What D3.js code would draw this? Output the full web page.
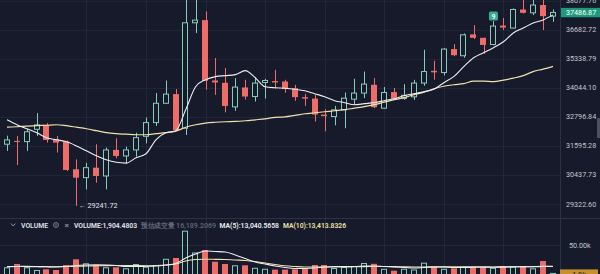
<!DOCTYPE html>
<html>
<head>
<meta charset="utf-8">
<script src="https://cdn.jsdelivr.net/npm/d3@7"></script>
<style>
  html, body { margin: 0; padding: 0; background: #161a2b; overflow: hidden; }
  svg { display: block; font-family: Roboto, "Noto Sans", sans-serif; }
</style>
</head>
<body>
<svg id="chart"></svg>
<script>
// candle data (oldest -> newest)
const opens  = [31652, 31786, 31757, 32264, 32446, 31855, 31757, 30648, 30320, 30711,
                30386, 31420, 31177, 31420, 31973, 32543, 33361, 33755, 32306, 36994,
                37121, 34351, 34250, 33205, 34044, 33650, 34263, 34325, 34307, 34018,
                33623, 33562, 32880, 32796, 33079, 33536, 33799, 34162, 33150, 33843,
                33571, 33637, 34237, 34780, 34703, 35765, 35461, 36446, 36286, 35974,
                36862, 36744, 37630, 37470, 37847, 37310];
const highs  = [32001, 31989, 32275, 32940, 32517, 31989, 31798, 31039, 30906, 31652,
                31514, 31895, 31554, 32123, 32754, 33799, 34351, 33974, 38200, 38200,
                37535, 35356, 34902, 34456, 34381, 34491, 34425, 34825, 34381, 34162,
                33768, 33724, 33108, 33248, 33825, 34425, 34748, 34456, 34062, 34018,
                34184, 34381, 35733, 35234, 35810, 35992, 36493, 36885, 36290, 37074,
                37225, 37680, 38200, 38200, 38200, 37630];
const lows   = [31380, 30816, 31380, 31989, 31717, 31311, 30582, 29241.72, 29865, 30124,
                29865, 31083, 30882, 31149, 31684, 32404, 33350, 32206, 32029, 36507,
                33943, 33724, 32973, 33037, 33518, 33431, 33562, 33987, 33811, 33462,
                33247, 32585, 32180, 32425, 32306, 33286, 33580, 33150, 33140, 33505,
                33505, 33505, 34118, 34381, 34575, 35438, 35370, 36234, 35549, 35941,
                36650, 36730, 37440, 37363, 36650, 37040];
const closes = [31826, 31745, 32163, 32446, 31826, 31717, 30621, 30320, 30711, 30386,
                31420, 31177, 31420, 31920, 32543, 33361, 33755, 32235, 36994, 37121,
                34337, 34263, 33245, 34061, 33650, 34237, 34351, 34263, 33974, 33623,
                33562, 32880, 32813, 33079, 33580, 33799, 34193, 33192, 33825, 33549,
                33702, 34237, 34748, 34712, 35765, 35484, 36427, 36286, 35955, 36838,
                36767, 37630, 37470, 37847, 37310, 37486.87];

// price moving averages as drawn
const maFast = [32660, 32453, 32287, 32122, 31915, 31832, 31750, 31583, 31383, 31184,
                31024, 30925, 30893, 31104, 31264, 31832, 32122, 32205, 33085, 34075,
                34388, 34522, 34566, 34611, 34790, 34477, 34075, 34031, 34010, 33967,
                33902, 33773, 33644, 33472, 33386, 33300, 33343, 33386, 33472, 33558,
                33687, 33773, 33859, 33967, 34254, 34522, 34968, 35371, 35600, 35828,
                36102, 36514, 36745, 36986, 37130, 37371];
const maSlow = [32350, 32370, 32391, 32412, 32432, 32453, 32412, 32350, 32287, 32205,
                32122, 32081, 32060, 32039, 32039, 32081, 32122, 32184, 32350, 32453,
                32524, 32557, 32578, 32590, 32619, 32660, 32702, 32764, 32784, 32849,
                32913, 32956, 32999, 33042, 33085, 33150, 33214, 33300, 33408, 33515,
                33601, 33730, 33838, 33988, 34097, 34164, 34209, 34321, 34321, 34298,
                34365, 34455, 34566, 34745, 34857, 34982];

// volume
const volumes = [11600, 17200, 11600, 6900, 8100, 6900, 15500, 25300, 18400, 15500,
                 11600, 11600, 9800, 17200, 12600, 15500, 26200, 27600, 74700, 37100,
                 41400, 21200, 17200, 15000, 15000, 10700, 9000, 7600, 7600, 8100,
                 10300, 15500, 15500, 10300, 12100, 13800, 19000, 17600, 9000, 5700,
                 9100, 7800, 19500, 12100, 9000, 9800, 12600, 12100, 11200, 10700,
                 13800, 12600, 13800, 9800, 22400, 1904.48];
const volMa5 = [12600, 12900, 13300, 12900, 12400, 12100, 12900, 14700, 15500, 15900,
                15500, 14700, 12900, 12900, 13300, 13800, 15500, 18100, 27600, 34500,
                39700, 38800, 37900, 32800, 26700, 20700, 17200, 13800, 11200, 9500,
                9500, 10300, 12100, 12900, 12900, 12900, 13800, 13800, 12900, 12100,
                11200, 10300, 11200, 12100, 12100, 11200, 11200, 11600, 11600, 11600,
                12100, 12400, 12400, 12800, 13100, 13040];
const volMa10 = [12900, 12900, 12800, 12800, 12600, 12600, 12900, 13400, 13800, 14100,
                 14500, 14700, 14700, 14500, 14300, 14700, 15500, 17200, 22400, 25000,
                 25500, 25300, 25000, 24100, 23300, 21600, 19000, 16400, 14100, 12900,
                 12100, 12100, 12100, 12100, 12100, 12400, 12800, 12900, 12900, 12800,
                 12400, 12100, 12100, 12300, 12300, 12300, 12400, 12400, 12300, 12100,
                 12300, 12400, 12400, 12600, 12900, 13410];

const priceTicks = [38077.76, 36682.72, 35338.79, 34044.10, 32796.84, 31595.28, 30437.73, 29322.60];
const gridIndex = [8, 14, 20, 26, 32, 38, 44, 50];
const volTicks = [50000];
const lastPrice = 37486.87;
const lowMark = { index: 7, value: 29241.72 };
const signalIndex = 49;

const W = 600, H = 274;
const plotRight = 560, mainBottom = 218, volBottom = 274;
const bg = "#161a2b", gridColor = "#222739", lineColor = "#2c3143";
const upColor = "#86cdb9", downColor = "#ee6d69";
const fastColor = "#eceff4", slowColor = "#efe2ad";

const svg = d3.select("#chart").attr("width", W).attr("height", H);
svg.append("rect").attr("width", W).attr("height", H).attr("fill", bg);

const idx = d3.range(opens.length);
const x = d3.scaleBand().domain(idx).range([2, 558]).paddingInner(0.35).paddingOuter(0.175);
const cx = (i) => x(i) + x.bandwidth() / 2;
const y = d3.scaleLog().domain([29322.60, 38077.76]).range([203.7, 0.3]);
const yVol = d3.scaleLinear().domain([0, 50000]).range([volBottom, 245]);

const defs = svg.append("defs");
defs.append("clipPath").attr("id", "mainClip")
  .append("rect").attr("width", plotRight).attr("height", mainBottom);
defs.append("clipPath").attr("id", "volClip")
  .append("rect").attr("y", mainBottom + 1).attr("width", plotRight).attr("height", volBottom - mainBottom);

// grid
const grid = svg.append("g");
grid.selectAll(".vgrid").data(gridIndex).join("line")
  .attr("x1", (d) => Math.round(cx(d)) + 0.5).attr("x2", (d) => Math.round(cx(d)) + 0.5)
  .attr("y1", 0).attr("y2", H)
  .attr("stroke", gridColor);

const yGrid = d3.axisLeft(y).tickValues(priceTicks).tickSize(-plotRight).tickFormat("");
grid.append("g").call(yGrid)
  .call((g) => g.select(".domain").remove())
  .selectAll("line").attr("stroke", gridColor).attr("transform", "translate(0,0.5)");

grid.selectAll(".volgrid").data(volTicks).join("line")
  .attr("x1", 0).attr("x2", plotRight)
  .attr("y1", (d) => Math.round(yVol(d)) + 0.5).attr("y2", (d) => Math.round(yVol(d)) + 0.5)
  .attr("stroke", gridColor);

// separators
svg.append("line").attr("x1", plotRight + 0.5).attr("x2", plotRight + 0.5)
  .attr("y1", 0).attr("y2", H).attr("stroke", lineColor);
svg.append("line").attr("x1", 0).attr("x2", W)
  .attr("y1", mainBottom + 0.5).attr("y2", mainBottom + 0.5).attr("stroke", lineColor);

// main pane
const main = svg.append("g").attr("clip-path", "url(#mainClip)");
const isUp = (i) => closes[i] >= opens[i];
const bw = x.bandwidth();

main.selectAll(".wick").data(idx).join("line")
  .attr("x1", (i) => Math.round(cx(i)) + 0.5).attr("x2", (i) => Math.round(cx(i)) + 0.5)
  .attr("y1", (i) => y(highs[i])).attr("y2", (i) => y(lows[i]))
  .attr("stroke", (i) => isUp(i) ? upColor : downColor)
  .attr("stroke-width", 1);

main.selectAll(".body").data(idx).join("rect")
  .attr("x", (i) => Math.round(cx(i) - bw / 2) + (isUp(i) ? 0.5 : 0))
  .attr("width", (i) => isUp(i) ? Math.round(bw) - 1 : Math.round(bw))
  .attr("y", (i) => y(Math.max(opens[i], closes[i])))
  .attr("height", (i) => Math.max(1, y(Math.min(opens[i], closes[i])) - y(Math.max(opens[i], closes[i]))))
  .attr("fill", (i) => isUp(i) ? bg : downColor)
  .attr("stroke", (i) => isUp(i) ? upColor : "none")
  .attr("stroke-width", 1);

const priceLine = (arr) => d3.line().x((d, i) => cx(i)).y((d) => y(d)).curve(d3.curveMonotoneX)(arr);
main.append("path").attr("d", priceLine(maSlow)).attr("fill", "none")
  .attr("stroke", slowColor).attr("stroke-width", 1.2);
main.append("path").attr("d", priceLine(maFast)).attr("fill", "none")
  .attr("stroke", fastColor).attr("stroke-width", 1.1);

// signal badge
const badge = main.append("g").attr("transform", `translate(${cx(signalIndex)},16)`);
badge.append("rect").attr("x", -4.5).attr("y", -4.5).attr("width", 9).attr("height", 9)
  .attr("rx", 1.5).attr("fill", "#36ad90");
badge.append("text").attr("text-anchor", "middle").attr("dy", "0.36em")
  .attr("font-size", 7).attr("font-weight", 700).attr("fill", "#e6fff7").text("9");

// lowest price marker
main.append("text")
  .attr("x", cx(lowMark.index) + 2).attr("y", y(lowMark.value)).attr("dy", "0.35em")
  .attr("font-size", 7.2).attr("fill", "#e4e6ec")
  .text("← " + lowMark.value.toFixed(2));

// price axis
const yAxis = d3.axisRight(y).tickValues(priceTicks).tickSize(0).tickPadding(0)
  .tickFormat((d) => d.toFixed(2));
svg.append("g").attr("transform", `translate(566,0)`).call(yAxis)
  .call((g) => g.select(".domain").remove())
  .selectAll("text").attr("font-size", 7.2).attr("fill", "#c4c8d2")
  .attr("font-family", "Roboto, sans-serif");

// last price tag
const tag = svg.append("g").attr("transform", `translate(561,${y(lastPrice)})`);
tag.append("rect").attr("x", 0).attr("y", -4.6).attr("width", 39).attr("height", 9.4).attr("fill", "#1d9a7c");
tag.append("text").attr("x", 5).attr("dy", "0.35em").attr("font-size", 7.2)
  .attr("fill", "#ffffff").text(lastPrice.toFixed(2));

// scroll handle
svg.append("rect").attr("x", 597).attr("y", 118).attr("width", 3).attr("height", 20).attr("fill", "#4a5062");

// volume pane
const vol = svg.append("g").attr("clip-path", "url(#volClip)");
vol.selectAll(".vbar").data(idx).join("rect")
  .attr("x", (i) => Math.round(cx(i) - bw / 2) + (isUp(i) ? 0.5 : 0))
  .attr("width", (i) => isUp(i) ? Math.round(bw) - 1 : Math.round(bw))
  .attr("y", (i) => yVol(volumes[i]) + (isUp(i) ? 0.5 : 0))
  .attr("height", (i) => volBottom + 2 - yVol(volumes[i]))
  .attr("fill", (i) => isUp(i) ? "none" : downColor)
  .attr("stroke", (i) => isUp(i) ? upColor : "none");

const volLine = (arr) => d3.line().x((d, i) => cx(i)).y((d) => yVol(d)).curve(d3.curveMonotoneX)(arr);
vol.append("path").attr("d", volLine(volMa10)).attr("fill", "none")
  .attr("stroke", slowColor).attr("stroke-width", 1.1);
vol.append("path").attr("d", volLine(volMa5)).attr("fill", "none")
  .attr("stroke", fastColor).attr("stroke-width", 1.1);

// volume axis
svg.selectAll(".vlab").data(volTicks).join("text")
  .attr("x", 569).attr("y", (d) => yVol(d)).attr("dy", "0.35em")
  .attr("font-size", 7.2).attr("fill", "#c4c8d2")
  .text((d) => (d / 1000).toFixed(2) + "k");

const vtag = svg.append("g").attr("transform", `translate(560,${yVol(volumes[volumes.length - 1])})`);
vtag.append("rect").attr("x", 0).attr("y", -3.5).attr("width", 38).attr("height", 10).attr("fill", "#c7902c");
vtag.append("text").attr("x", 19).attr("y", 1.5).attr("dy", "0.35em").attr("text-anchor", "middle")
  .attr("font-size", 7.2).attr("fill", "#1b1b1b")
  .text((volumes[volumes.length - 1] / 1000).toFixed(1) + "k");

// volume legend
const legendY = 225;
const legend = svg.append("g").attr("font-size", 7.4).attr("font-weight", 600);
legend.append("path").attr("d", `M11,${legendY - 1.5} L13.2,${legendY + 1} L15.4,${legendY - 1.5}`)
  .attr("fill", "none").attr("stroke", "#9aa0ae").attr("stroke-width", 0.9);
legend.append("circle").attr("cx", 56).attr("cy", legendY).attr("r", 2.4)
  .attr("fill", "none").attr("stroke", "#8a90a0").attr("stroke-width", 0.9);
legend.append("circle").attr("cx", 56).attr("cy", legendY).attr("r", 0.8).attr("fill", "#8a90a0");

const legendItems = [
  { text: "VOLUME", x: 21, w: 27, color: "#dfe2e8" },
  { text: "×", x: 64.5, w: 4.5, color: "#8a90a0" },
  { text: "VOLUME:1,904.4803", x: 74, w: 63, color: "#e6e8ee" },
  { text: "预估成交量 16,189.2069", x: 141, w: 75, color: "#5f6577" },
  { text: "MA(5):13,040.5658", x: 219.5, w: 59.5, color: "#eef0f4" },
  { text: "MA(10):13,413.8326", x: 283, w: 63, color: "#f3e6a8" },
];
legend.selectAll("text").data(legendItems).join("text")
  .attr("x", (d) => d.x).attr("y", legendY).attr("dy", "0.35em")
  .attr("textLength", (d) => d.w).attr("lengthAdjust", "spacingAndGlyphs")
  .attr("fill", (d) => d.color)
  .text((d) => d.text);
</script>
</body>
</html>
